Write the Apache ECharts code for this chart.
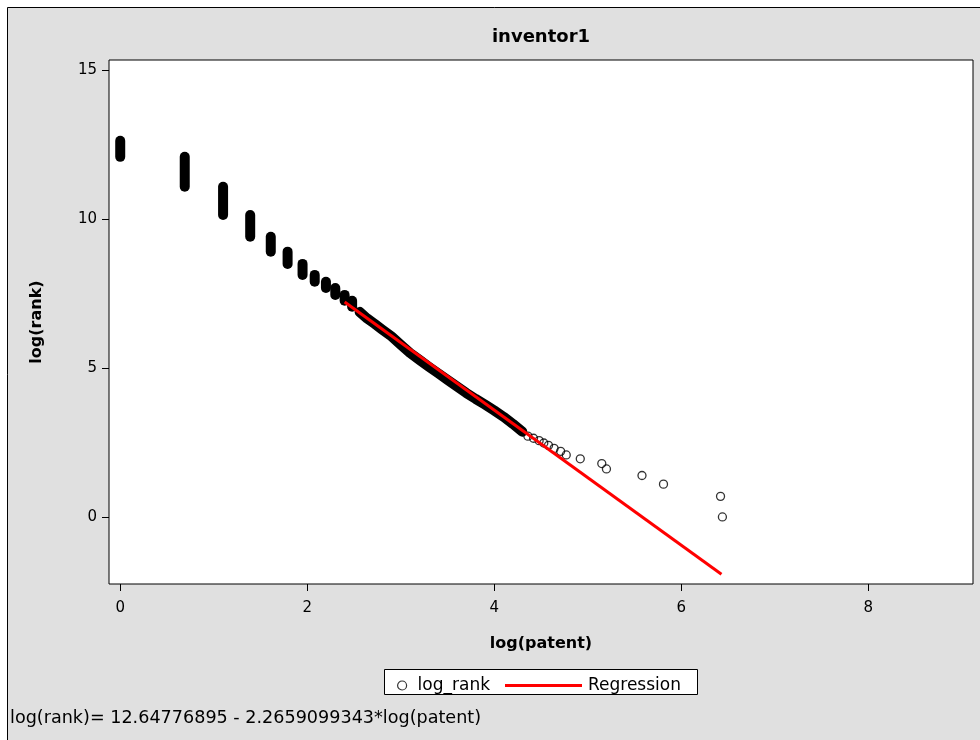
<!DOCTYPE html>
<html>
<head>
<meta charset="utf-8">
<script src="https://cdn.jsdelivr.net/npm/echarts@6/dist/echarts.min.js"></script>
<style>
  html, body { margin: 0; padding: 0; background: #fff; }
  #chart { width: 980px; height: 740px; }
</style>
</head>
<body>
<div id="chart"></div>
<script>
// vertical runs of log_rank at the small patent counts (log(patent), low / high log(rank))
const colX    = [0, 0.69, 1.10, 1.39, 1.61, 1.79, 1.95, 2.08, 2.20, 2.30, 2.40, 2.48];
const colLow  = [12.08, 11.08, 10.13, 9.40, 8.90, 8.49, 8.12, 7.89, 7.68, 7.45, 7.25, 7.05];
const colHigh = [12.62, 12.08, 11.08, 10.13, 9.40, 8.90, 8.49, 8.12, 7.89, 7.68, 7.45, 7.25];

// dense band of points in the middle
const bandX = [2.56, 2.64, 2.72, 2.80, 2.90, 3.00, 3.10, 3.20, 3.30, 3.40, 3.50, 3.60, 3.70, 3.80, 3.90, 4.00, 4.10, 4.20, 4.30];
const bandY = [6.88, 6.66, 6.48, 6.29, 6.06, 5.78, 5.50, 5.27, 5.04, 4.82, 4.60, 4.38, 4.16, 3.96, 3.77, 3.57, 3.36, 3.12, 2.86];

// separate points at the top inventors
const tailX = [4.36, 4.42, 4.48, 4.53, 4.58, 4.64, 4.71, 4.77, 4.92, 5.15, 5.20, 5.58, 5.81, 6.42, 6.44];
const tailY = [2.71, 2.64, 2.56, 2.48, 2.40, 2.30, 2.20, 2.08, 1.95, 1.79, 1.61, 1.39, 1.10, 0.69, 0.00];

// regression line ends
const regX = [2.40, 6.43];
const regY = [7.21, -1.92];

const xTicks = [0, 2, 4, 6, 8];
const yTicks = [0, 5, 10, 15];

const FONT = 'DejaVu Sans';

const zip = (a, b) => a.map((v, i) => [v, b[i]]);

const chart = echarts.init(document.getElementById('chart'));

const option = {
  backgroundColor: '#fff',
  animation: false,
  textStyle: { fontFamily: FONT, color: '#000' },
  grid: {
    left: 109, top: 60, right: 7, bottom: 156,
    show: true, backgroundColor: '#fff', borderColor: '#000', borderWidth: 1
  },
  xAxis: {
    type: 'value',
    min: -0.12, max: 9.12,
    name: 'log(patent)',
    nameLocation: 'middle',
    nameGap: 52,
    nameTextStyle: { fontFamily: FONT, fontWeight: 'bold', fontSize: 16, color: '#000' },
    axisLine: { show: false, onZero: false },
    axisTick: { show: true, length: 7, customValues: xTicks, lineStyle: { color: '#000' } },
    axisLabel: { customValues: xTicks, margin: 17, fontSize: 15, color: '#000', fontFamily: FONT },
    splitLine: { show: false }
  },
  yAxis: {
    type: 'value',
    min: -2.25, max: 15.33,
    name: 'log(rank)',
    nameLocation: 'middle',
    nameGap: 64,
    nameTextStyle: { fontFamily: FONT, fontWeight: 'bold', fontSize: 16, color: '#000' },
    axisLine: { show: false, onZero: false },
    axisTick: { show: true, length: 7, customValues: yTicks, lineStyle: { color: '#000' } },
    axisLabel: { customValues: yTicks, margin: 12, fontSize: 15, color: '#000', fontFamily: FONT },
    splitLine: { show: false }
  },
  legend: [
    {
      data: [{ name: 'log_rank', icon: 'circle',
               itemStyle: { color: '#fff', borderColor: '#000', borderWidth: 1.2 } }],
      left: 392, top: 672,
      itemWidth: 9, itemHeight: 9,
      textStyle: { fontFamily: FONT, fontSize: 17, color: '#000', padding: [0, 0, 0, 6] },
      selectedMode: false
    },
    {
      data: [{ name: 'Regression', icon: 'rect', itemStyle: { color: '#ff0000' } }],
      left: 500, top: 672,
      itemWidth: 77, itemHeight: 3,
      textStyle: { fontFamily: FONT, fontSize: 17, color: '#000', padding: [0, 0, 0, 1] },
      selectedMode: false
    }
  ],
  graphic: [
    { type: 'rect', z: -10, silent: true,
      shape: { x: 7.5, y: 7.5, width: 1000, height: 1000 },
      style: { fill: '#e0e0e0', stroke: '#000', lineWidth: 1 } },
    { type: 'rect', z: 1, silent: true,
      shape: { x: 384.5, y: 669.5, width: 313, height: 25 },
      style: { fill: '#fff', stroke: '#000', lineWidth: 1 } },
    { type: 'text', silent: true, x: 541, y: 37,
      style: { text: 'inventor1', font: 'bold 18px "' + FONT + '"', fill: '#000',
               textAlign: 'center', textVerticalAlign: 'middle' } },
    { type: 'text', silent: true, x: 10, y: 718,
      style: { text: 'log(rank)= 12.64776895 - 2.2659099343*log(patent)',
               font: '17.6px "' + FONT + '"', fill: '#000',
               textAlign: 'left', textVerticalAlign: 'middle' } }
  ],
  series: [
    {
      name: 'runs',
      type: 'custom',
      data: colX.map((x, i) => [x, colLow[i], colHigh[i]]),
      renderItem: function (params, api) {
        const top = api.coord([api.value(0), api.value(2)]);
        const bot = api.coord([api.value(0), api.value(1)]);
        return {
          type: 'rect',
          shape: { x: top[0] - 5, y: top[1] - 5, width: 10, height: bot[1] - top[1] + 10, r: 5 },
          style: { fill: '#000' }
        };
      },
      silent: true
    },
    {
      name: 'band',
      type: 'line',
      data: zip(bandX, bandY),
      showSymbol: false,
      symbol: 'none',
      lineStyle: { color: '#000', width: 10, cap: 'round', join: 'round' },
      silent: true
    },
    {
      name: 'log_rank',
      type: 'scatter',
      data: zip(tailX, tailY),
      symbol: 'circle',
      symbolSize: 8,
      itemStyle: { color: 'rgba(0,0,0,0)', borderColor: '#000', borderWidth: 1.3 }
    },
    {
      name: 'Regression',
      type: 'line',
      data: zip(regX, regY),
      showSymbol: false,
      symbol: 'none',
      lineStyle: { color: '#ff0000', width: 3 },
      z: 5
    }
  ]
};

chart.setOption(option);
</script>
</body>
</html>
